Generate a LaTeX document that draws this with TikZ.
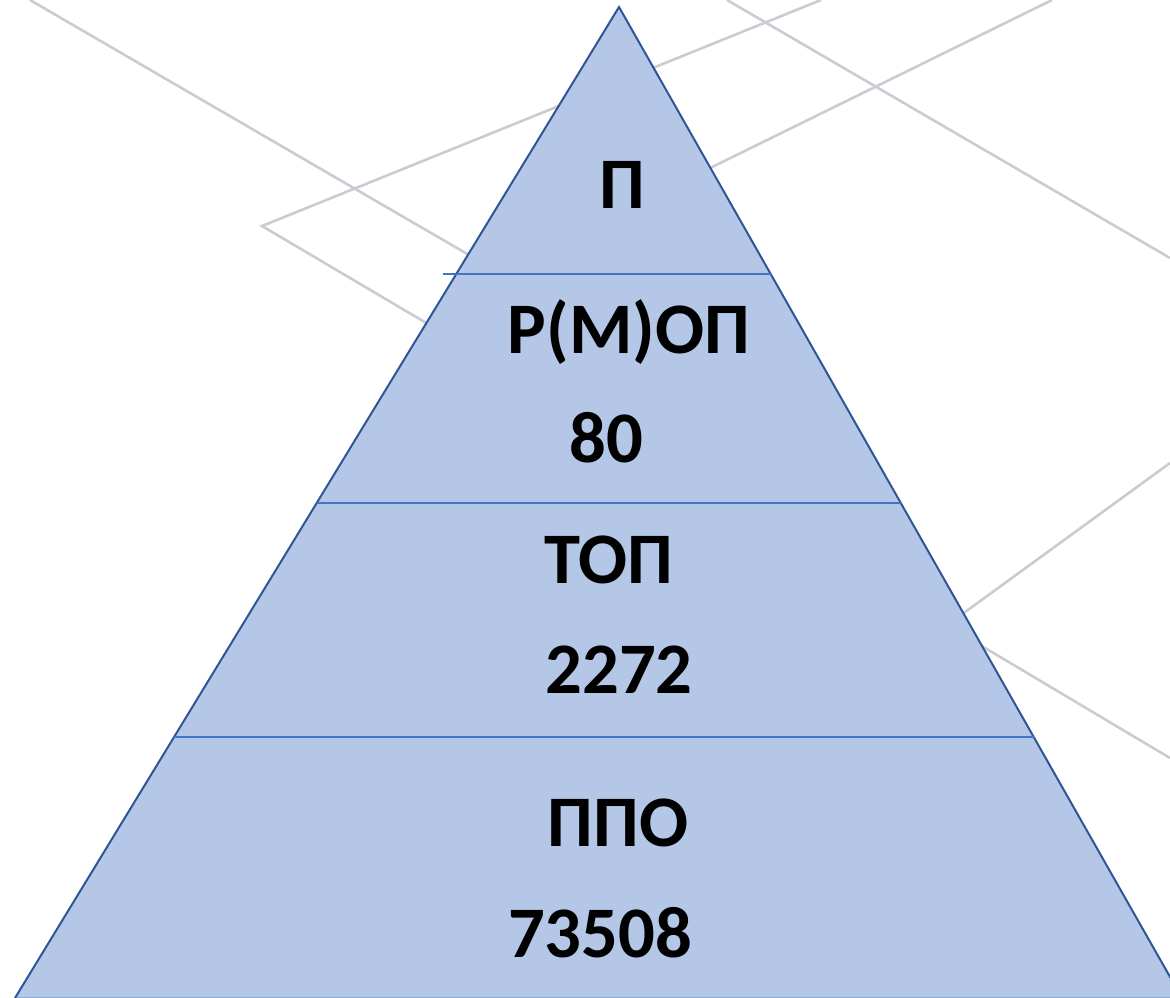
\documentclass[tikz,border=0pt]{standalone}
\usepackage{fontspec}
\setmainfont{Carlito}
\definecolor{pyrfill}{HTML}{B4C7E7}
\definecolor{pyredge}{HTML}{2F5597}
\definecolor{divline}{HTML}{4472C4}
\definecolor{bgline}{HTML}{C9CCD2}
\definecolor{baseln}{HTML}{8FAADC}
\begin{document}
\begin{tikzpicture}[x=1pt,y=-1pt,
  bgstroke/.style={draw=bgline,line width=2.6pt},
  divider/.style={draw=divline,line width=1.3pt},
  label/.style={font=\fontsize{72.6}{80}\selectfont\bfseries,anchor=base,inner sep=0pt,text=black}]
\useasboundingbox (0,0) rectangle (1170,998);
\begin{scope}
\clip (0,0) rectangle (1170,998);
% background lines
\coordinate (b1) at (30,0);
\coordinate (b2) at (500,273);
\coordinate (c1) at (262,226);
\coordinate (c2) at (450,337);
\coordinate (c3) at (821,0);
\coordinate (d1) at (727,0);
\coordinate (d2) at (1170,258);
\coordinate (e1) at (1052,0);
\coordinate (e2) at (700,173);
\coordinate (f1) at (950,623);
\coordinate (f2) at (1170,463);
\coordinate (g1) at (970,639);
\coordinate (g2) at (1170,758);
\draw[bgstroke] (b1) -- (b2);
\draw[bgstroke,line join=miter] (c2) -- (c1) -- (c3);
\draw[bgstroke] (d1) -- (d2);
\draw[bgstroke] (e1) -- (e2);
\draw[bgstroke] (f1) -- (f2);
\draw[bgstroke] (g1) -- (g2);
% pyramid
\coordinate (apex) at (619,7);
\coordinate (bl) at (15,998);
\coordinate (br) at (1182,998);
\fill[pyrfill] (apex) -- (br) -- (bl) -- cycle;
\draw[baseln,line width=1.5pt] (bl) -- (br);
\draw[pyredge,line width=2pt,line join=miter] (bl) -- (apex) -- (br);
% dividers
\coordinate (h1l) at (443,274); \coordinate (h1r) at (771,274);
\coordinate (h2l) at (317,503); \coordinate (h2r) at (901,503);
\coordinate (h3l) at (174,737); \coordinate (h3r) at (1034,737);
\draw[divider] (h1l) -- (h1r);
\draw[divider] (h2l) -- (h2r);
\draw[divider] (h3l) -- (h3r);
\end{scope}
% labels
\node[label] (t1) at (622,208) {П};
\node[label] (t2) at (629,353) {Р(М)ОП};
\node[label] (t3) at (606,462) {80};
\node[label] (t4) at (609,583) {ТОП};
\node[label] (t5) at (619,693) {2272};
\node[label] (t6) at (618,846) {ППО};
\node[label] (t7) at (600,957) {73508};
\end{tikzpicture}
\end{document}
